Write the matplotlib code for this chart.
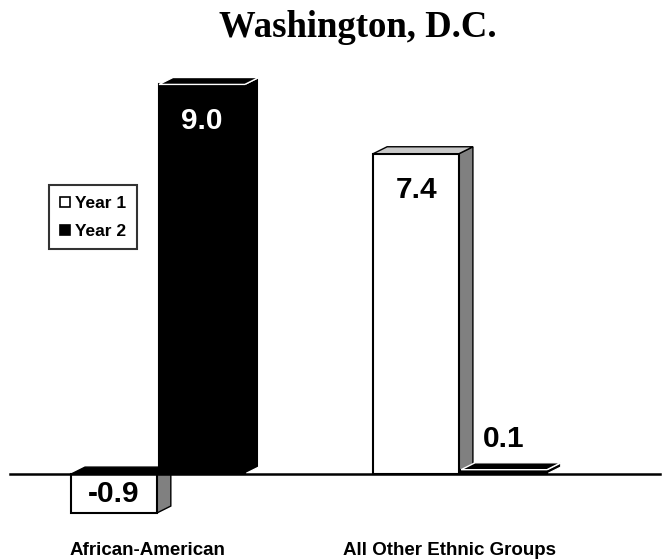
# 3D-style grouped bar chart, Washington, D.C.
import matplotlib.pyplot as plt
from matplotlib.patches import Polygon
from matplotlib.lines import Line2D

# --- data ---
groups = ['African-American', 'All Other Ethnic Groups']
series = ['Year 1', 'Year 2']
year1 = [-0.9, 7.4]
year2 = [9.0, 0.1]

plt.rcParams['font.family'] = ['Liberation Sans', 'DejaVu Sans']

# --- figure ---
fig = plt.figure(figsize=(6.67, 5.59), dpi=100)
ax = fig.add_axes([0, 0, 1, 1])
ax.set_axis_off()
ax.set_xlim(-0.523, 1.685)
ax.set_ylim(-1.963, 10.95)

w = 0.284      # bar width (category units)
gap = 0.007
dx, dy = 0.046, 0.16   # 3D depth offset

styles = {
    'Year 1': dict(front='white', side='#808080', top='#c8c8c8', edge='black'),
    'Year 2': dict(front='black', side='black', top='black', edge='white'),
}


def draw_bar(x0, v, st):
    b, t = min(0, v), max(0, v)
    ax.bar(x0, t - b, width=w, bottom=b, align='edge', color=st['front'],
           edgecolor='black', linewidth=1.5, zorder=3)
    top_col = st['top'] if v > 0 else 'black'
    ax.add_patch(Polygon([(x0, t), (x0 + w, t), (x0 + w + dx, t + dy), (x0 + dx, t + dy)],
                         closed=True, facecolor=top_col, edgecolor=st['edge'] if v > 0 else 'black',
                         linewidth=1, zorder=4))
    ax.add_patch(Polygon([(x0 + w, b), (x0 + w + dx, b + dy), (x0 + w + dx, t + dy), (x0 + w, t)],
                         closed=True, facecolor=st['side'], edgecolor=st['edge'],
                         linewidth=1, zorder=2))


def label_bar(x0, v, color):
    txt = f'{v:.1f}'
    cx = x0 + w / 2
    if v < 0:
        ax.text(cx, v / 2, txt, ha='center', va='center', color='black',
                fontsize=21.5, fontweight='bold', zorder=6)
    elif v < 1:
        ax.annotate(txt, (cx, v), xytext=(0, 12), textcoords='offset points',
                    ha='center', va='bottom', color='black',
                    fontsize=21.5, fontweight='bold', zorder=6)
    else:
        ax.annotate(txt, (cx, v), xytext=(0, -16), textcoords='offset points',
                    ha='center', va='top', color=color,
                    fontsize=21.5, fontweight='bold', zorder=6)


for i in range(len(groups)):
    x1 = i - w - gap / 2
    x2 = i + gap / 2
    draw_bar(x1, year1[i], styles['Year 1'])
    draw_bar(x2, year2[i], styles['Year 2'])
    label_bar(x1, year1[i], 'black')
    label_bar(x2, year2[i], 'white')
    ax.text(i - 0.035, -1.87, groups[i], ha='center', va='baseline',
            fontsize=13.5, fontweight='bold')

# baseline
ax.axhline(0, xmin=10 / 667, xmax=660 / 667, color='black', linewidth=1.8, zorder=5)

# title
fig.text(0.537, 0.934, 'Washington, D.C.', ha='center', va='baseline',
         fontsize=26.5, fontweight='bold', family='Liberation Serif')

# legend
handles = [Line2D([], [], marker='s', linestyle='none', markersize=7.5,
                  markerfacecolor=c, markeredgecolor='black', markeredgewidth=1.2)
           for c in ['white', 'black']]
leg = fig.legend(handles, series, loc='upper left', bbox_to_anchor=(0.0735, 0.669),
                 borderaxespad=0, frameon=True, fancybox=False, handlelength=0.6,
                 handletextpad=0.3, borderpad=0.6, labelspacing=0.75,
                 prop=dict(weight='bold', size=12.5, family='Liberation Sans'))
leg.get_frame().set_edgecolor('black')
leg.get_frame().set_linewidth(1.5)

fig.savefig('out.png', dpi=100)
